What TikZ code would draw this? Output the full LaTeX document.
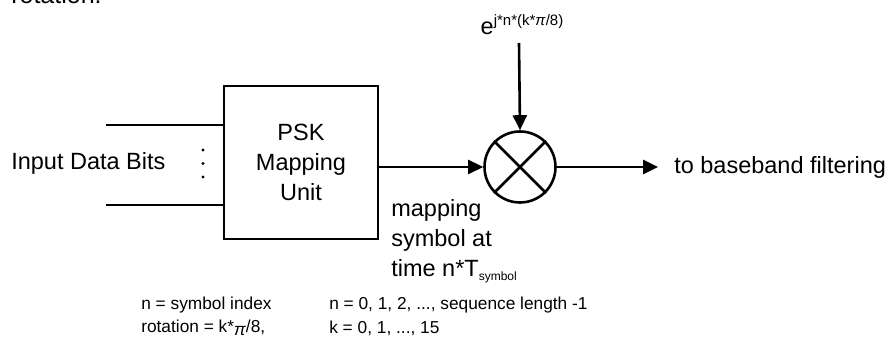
\documentclass[tikz,border=0pt]{standalone}
\usepackage{fontspec}
\setmainfont{Liberation Sans}
\usetikzlibrary{arrows.meta, positioning}

\begin{document}
\begin{tikzpicture}[x=1pt, y=-1pt, line width=2.6pt,
    bigtext/.style={font=\fontsize{23.5}{30}\selectfont, inner sep=0pt},
    smalltext/.style={font=\fontsize{17.3}{21}\selectfont, inner sep=0pt, anchor=west},
    sig/.style={-{Triangle[length=15pt, width=14pt]}}]
    \useasboundingbox (0,0) rectangle (886,352);

    % Cut-off caption line
    \node[bigtext, font=\fontsize{25}{30}\selectfont, anchor=base west] (cap) at (10,4) {rotation.};

    % Mapping unit
    \node[draw, bigtext, align=center, minimum width=154, minimum height=153] (psk) at (301,162.5) {PSK\\Mapping\\Unit};

    % Input bits
    \coordinate (in1) at (106,125);
    \coordinate (in2) at (106,205);
    \draw (in1) -- (in1 -| psk.west);
    \draw (in2) -- (in2 -| psk.west);
    \foreach \y in {150,163.5,177}
        \fill (203,\y) circle (1.6);
    \node[bigtext, anchor=west] (inlbl) at (10,163) {Input Data Bits};

    % Mixer
    \node[draw, circle, minimum size=71, inner sep=0pt] (mix) at (520,167) {};
    \draw (mix.45) -- (mix.225);
    \draw (mix.135) -- (mix.315);
    \draw[sig] (psk.east |- mix) -- (mix.west);

    % Rotation factor
    \node[bigtext, anchor=south] (phase) at (522,36) {e\raisebox{9pt}{\fontsize{15}{15}\selectfont j*n*(k*\textit{π}/8)}};
    \coordinate (ph) at (519,43);
    \draw[sig] (ph) -- (mix.north);

    % Output
    \node[bigtext, anchor=west] (out) at (673,167) {to baseband filtering};
    \draw[sig, shorten >=15pt] (mix.east) -- (out.west);

    % Symbol timing note
    \node[bigtext, align=left, anchor=north west] (sym) at (390,198)
        {mapping\\symbol at\\time n*T\raisebox{-4pt}{\fontsize{12}{12}\selectfont symbol}};

    % Definitions
    \node[smalltext] (def1) at (140,305) {n = symbol index};
    \node[smalltext] (def2) at (140,328) {rotation = k*\raisebox{-3pt}{\textit{π}}/8,};
    \node[smalltext] (rng1) at (328,305) {n = 0, 1, 2, ..., sequence length -1};
    \node[smalltext] (rng2) at (328,328) {k = 0, 1, ..., 15};
\end{tikzpicture}
\end{document}
